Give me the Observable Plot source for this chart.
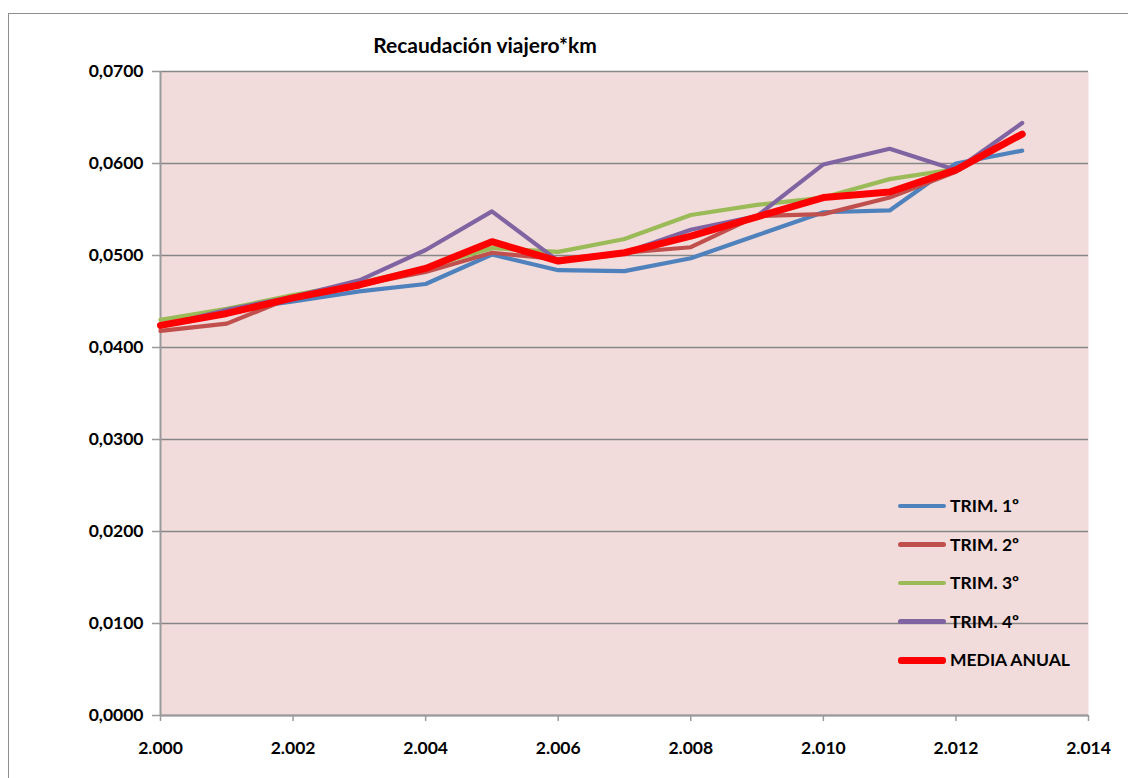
<!DOCTYPE html>
<html>
<head>
<meta charset="utf-8">
<script src="https://cdn.jsdelivr.net/npm/d3@7"></script>
<script src="https://cdn.jsdelivr.net/npm/@observablehq/plot@0.6"></script>
<style>
  html, body { margin: 0; padding: 0; background: #fff; }
  #wrap { position: relative; width: 1128px; height: 778px; overflow: hidden; font-family: Lato, "Open Sans", sans-serif; }
  #border { position: absolute; left: 8px; top: 13px; width: 1140px; height: 800px; border: 1.5px solid #8e8e8e; box-sizing: border-box; }
  #title { position: absolute; left: 285px; width: 400px; top: 31px; text-align: center; font-weight: bold; font-size: 21px; line-height: 28px; color: #000; }
  #legend { position: absolute; left: 898px; top: 495px; }
  .item { height: 38.5px; display: flex; align-items: flex-start; font-weight: bold; font-size: 17.5px; color: #000; }
  .sw { width: 48px; border-radius: 3px; margin-right: 4px; }
  #chart { position: absolute; left: 0; top: 0; }
</style>
</head>
<body>
<div id="wrap">
  <div id="border"></div>
  <div id="chart"></div>
  <div id="title"></div>
  <div id="legend"></div>
</div>
<script>
const title = "Recaudación viajero*km";
const years = [2000, 2001, 2002, 2003, 2004, 2005, 2006, 2007, 2008, 2009, 2010, 2011, 2012, 2013];
const seriesNames = ["TRIM. 1º", "TRIM. 2º", "TRIM. 3º", "TRIM. 4º", "MEDIA ANUAL"];
const trim1 = [0.0425, 0.0440, 0.0450, 0.0461, 0.0469, 0.0501, 0.0484, 0.0483, 0.0497, 0.0522, 0.0547, 0.0549, 0.0600, 0.0614];
const trim2 = [0.0418, 0.0426, 0.0455, 0.0468, 0.0482, 0.0503, 0.0496, 0.0503, 0.0509, 0.0543, 0.0545, 0.0563, 0.0591, 0.0632];
const trim3 = [0.0430, 0.0442, 0.0457, 0.0470, 0.0487, 0.0508, 0.0504, 0.0518, 0.0544, 0.0555, 0.0563, 0.0583, 0.0594, 0.0633];
const trim4 = [0.0423, 0.0441, 0.0455, 0.0473, 0.0506, 0.0548, 0.0494, 0.0503, 0.0528, 0.0543, 0.0599, 0.0616, 0.0593, 0.0644];
const media = [0.0424, 0.0437, 0.0454, 0.0468, 0.0486, 0.0515, 0.0494, 0.0503, 0.0521, 0.0542, 0.0563, 0.0569, 0.0593, 0.0632];
const yTicks = [0, 0.01, 0.02, 0.03, 0.04, 0.05, 0.06, 0.07];
const xTicks = [2000, 2002, 2004, 2006, 2008, 2010, 2012, 2014];
const colors = ["#4F81BD", "#C0504D", "#9BBB59", "#8064A2", "#FF0000"];
const widths = [4.2, 4.2, 4.2, 4.2, 7];

const allSeries = [trim1, trim2, trim3, trim4, media];
const rows = [];
allSeries.forEach((vals, i) => vals.forEach((v, j) => rows.push({year: years[j], value: v, series: seriesNames[i]})));

const es = d3.formatLocale({decimal: ",", thousands: ".", grouping: [3], currency: ["", ""]});
const fx = es.format(",");
const fy = es.format(".4f");

const lineMarks = seriesNames.map((name, i) =>
  Plot.line(rows.filter(d => d.series === name), {
    x: "year", y: "value", stroke: colors[i], strokeWidth: widths[i],
    strokeLinejoin: "round", strokeLinecap: "round"
  })
);

const chart = Plot.plot({
  width: 1128,
  height: 778,
  marginLeft: 160,
  marginRight: 40,
  marginTop: 71,
  marginBottom: 63,
  style: {fontFamily: "Lato, 'Open Sans', sans-serif", background: "transparent", overflow: "visible"},
  x: {domain: [2000, 2014], ticks: xTicks, tickFormat: fx},
  y: {domain: [0, 0.07], ticks: yTicks, tickFormat: fy},
  marks: [
    Plot.frame({fill: "#F2DCDB", stroke: null}),
    Plot.gridY(yTicks, {stroke: "#868686", strokeOpacity: 1, strokeWidth: 1.5}),
    Plot.ruleX([2000], {stroke: "#9a9a9a", strokeWidth: 2}),
    Plot.ruleY([0], {stroke: "#9a9a9a", strokeWidth: 2}),
    Plot.axisX(xTicks, {tickSize: 6, tickPadding: 20, fontSize: 17.5, fontWeight: "bold", fill: "#000", stroke: "#9a9a9a", strokeWidth: 1.5, label: null, tickFormat: fx}),
    Plot.axisY(yTicks, {tickSize: 8, tickPadding: 9, fontSize: 17.5, fontWeight: "bold", fill: "#000", stroke: "#9a9a9a", strokeWidth: 1.5, label: null, tickFormat: fy}),
    ...lineMarks
  ]
});
document.getElementById("chart").appendChild(chart);
document.getElementById("title").textContent = title;

const legend = document.getElementById("legend");
seriesNames.forEach((name, i) => {
  const it = document.createElement("div");
  it.className = "item";
  const sw = document.createElement("div");
  sw.className = "sw";
  sw.style.height = widths[i] + "px";
  sw.style.background = colors[i];
  sw.style.marginTop = (11 - widths[i] / 2) + "px";
  const tx = document.createElement("span");
  tx.textContent = name;
  tx.style.lineHeight = "22px";
  it.appendChild(sw);
  it.appendChild(tx);
  legend.appendChild(it);
});
</script>
</body>
</html>
